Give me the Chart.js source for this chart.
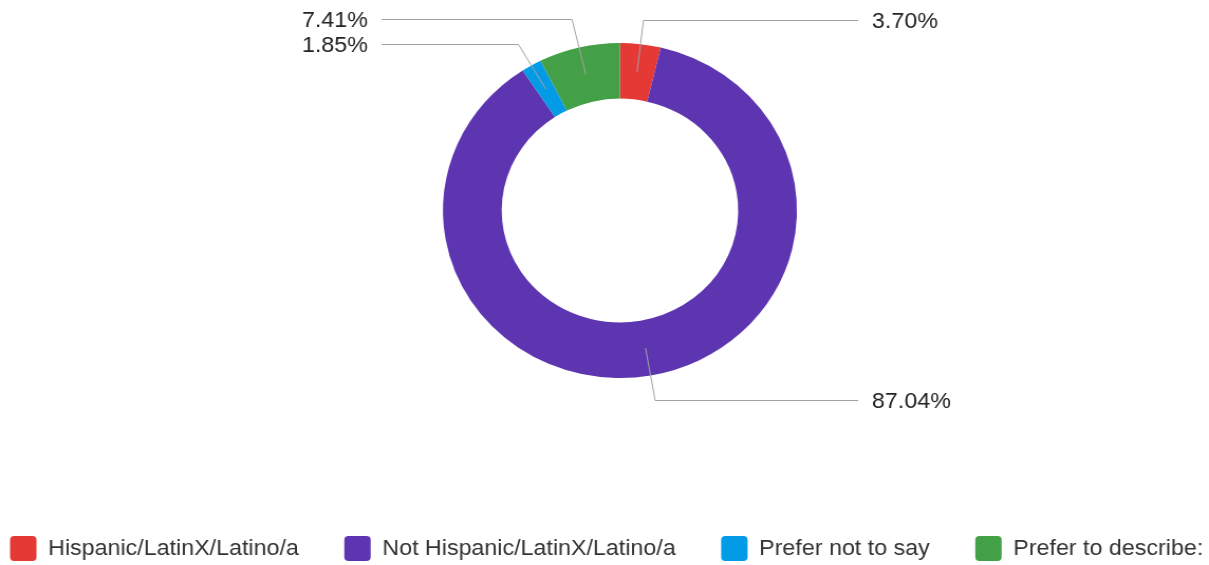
<!DOCTYPE html>
<html>
<head>
<meta charset="utf-8">
<script src="https://cdn.jsdelivr.net/npm/chart.js@4.4.1/dist/chart.umd.min.js"></script>
<style>
  html, body { margin: 0; padding: 0; background: #ffffff; overflow: hidden; }
  #chart { display: block; width: 1209px; height: 565px; }
</style>
</head>
<body>
<canvas id="chart" width="1144" height="565" style="width:1209px;height:565px"></canvas>
<script>
// ---- data ----
const categories = [
  'Hispanic/LatinX/Latino/a',
  'Not Hispanic/LatinX/Latino/a',
  'Prefer not to say',
  'Prefer to describe:'
];
const responses = [2, 47, 1, 4];   // 3.70%, 87.04%, 1.85%, 7.41%
const sliceColors = ['#e53935', '#5e35b1', '#039be5', '#43a047'];

const FONT = "'Liberation Sans', Arial, Helvetica, sans-serif";
Chart.defaults.font.family = FONT;

// shift the pie area slightly right of the canvas centre (as in the reference)
const areaShift = {
  id: 'areaShift',
  afterLayout(chart) {
    const a = chart.chartArea;
    a.left += 14.6;
    a.right += 14.6;
  }
};

// leader-line percentage labels
const leaderLabels = {
  id: 'leaderLabels',
  afterDatasetsDraw(chart) {
    const ctx = chart.ctx;
    const meta = chart.getDatasetMeta(0);
    const values = chart.data.datasets[0].data;
    const total = values.reduce((a, b) => a + b, 0);
    const items = meta.data.map((arc, i) => {
      const p = arc.getProps(['x', 'y', 'startAngle', 'endAngle', 'innerRadius', 'outerRadius'], true);
      const mid = (p.startAngle + p.endAngle) / 2;
      const rMid = (p.innerRadius + p.outerRadius) / 2;
      const rLab = p.outerRadius + 24.5;
      return {
        cx: p.x, cy: p.y, mid, outer: p.outerRadius,
        ax: p.x + Math.cos(mid) * rMid,
        ay: p.y + Math.sin(mid) * rMid,
        ly: p.y + Math.sin(mid) * rLab,
        rLab,
        right: Math.cos(mid) >= 0,
        text: (values[i] / total * 100).toFixed(2) + '%'
      };
    });
    const gap = 25;
    [true, false].forEach(side => {
      const list = items.filter(it => it.right === side).sort((a, b) => a.ly - b.ly);
      for (let k = list.length - 2; k >= 0; k--) {
        list[k].ly = Math.min(list[k].ly, list[k + 1].ly - gap);
      }
      if (list.length) list[0].ly = Math.max(list[0].ly, 12);
      for (let k = 1; k < list.length; k++) {
        list[k].ly = Math.max(list[k].ly, list[k - 1].ly + gap);
      }
    });
    ctx.save();
    items.forEach(it => {
      const s = Math.sin(it.mid);
      let ex;
      if (Math.abs(s) > 0.2) {
        const t = (it.ly - it.cy) / s;
        ex = it.cx + Math.cos(it.mid) * t;
      } else {
        ex = it.cx + Math.cos(it.mid) * it.rLab;
      }
      const ly = Math.round(it.ly) + 0.5;
      const endX = it.right ? it.cx + it.outer + 58 : it.cx - it.outer - 58;
      ctx.beginPath();
      ctx.strokeStyle = '#a3a3a3';
      ctx.lineWidth = 1;
      ctx.moveTo(it.ax, it.ay);
      ctx.lineTo(ex, ly);
      ctx.lineTo(endX, ly);
      ctx.stroke();
      ctx.fillStyle = '#222222';
      ctx.font = '22px ' + FONT;
      ctx.textBaseline = 'middle';
      ctx.textAlign = it.right ? 'left' : 'right';
      ctx.fillText(it.text, it.right ? endX + 13 : endX - 13, ly + 1.5);
    });
    ctx.restore();
  }
};

new Chart(document.getElementById('chart'), {
  type: 'doughnut',
  data: {
    labels: categories,
    datasets: [{
      data: responses,
      backgroundColor: sliceColors,
      borderWidth: 0,
      hoverBorderWidth: 0,
      hoverOffset: 0,
      offset: 0
    }]
  },
  options: {
    responsive: false,
    animation: false,
    devicePixelRatio: 1,
    events: [],
    cutout: '66.8%',
    layout: { padding: { top: 43, bottom: -6, left: -33.5, right: -62.7 } },
    plugins: {
      tooltip: { enabled: false },
      legend: {
        position: 'bottom',
        align: 'start',
        title: { display: true, text: '', padding: { top: 105, bottom: 0 }, font: { size: 10, lineHeight: 1 } },
        labels: {
          boxWidth: 25,
          boxHeight: 25,
          padding: 43,
          color: '#333333',
          font: { size: 22, family: FONT },
          useBorderRadius: true,
          borderRadius: 4,
          generateLabels(chart) {
            const base = Chart.overrides.doughnut.plugins.legend.labels.generateLabels(chart);
            return base.map(l => Object.assign({}, l, { borderRadius: 4, lineWidth: 0 }));
          }
        }
      }
    }
  },
  plugins: [areaShift, leaderLabels]
});
</script>
</body>
</html>
